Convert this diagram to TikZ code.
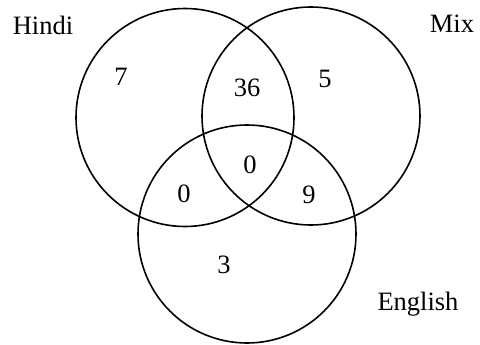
\documentclass[tikz,border=0pt]{standalone}
\usepackage{fontspec}
\setmainfont{Liberation Serif}
\begin{document}
\begin{tikzpicture}[x=1pt,y=-1pt,
  vcirc/.style={draw=black,line width=1.6pt,circle,minimum size=218pt,inner sep=0pt,outer sep=0pt},
  lbl/.style={font=\fontsize{26.5}{30}\selectfont,anchor=base,inner sep=0pt}]
\useasboundingbox[fill=white] (0,0) rectangle (480,345);
\node[vcirc] (hindi) at (185,117.5) {};
\node[vcirc] (mix) at (311,116) {};
\node[vcirc] (english) at (247,234) {};
\node[lbl] (lh) at (43,35) {Hindi};
\node[lbl] (lm) at (452,33) {Mix};
\node[lbl] (le) at (418,310) {English};
\node[lbl] (n7) at (121,86) {7};
\node[lbl] (n36) at (247,97) {36};
\node[lbl] (n5) at (325,88) {5};
\node[lbl] (n0c) at (250,173) {0};
\node[lbl] (n0l) at (184,202) {0};
\node[lbl] (n9) at (309,203) {9};
\node[lbl] (n3) at (224,273) {3};
\end{tikzpicture}
\end{document}
